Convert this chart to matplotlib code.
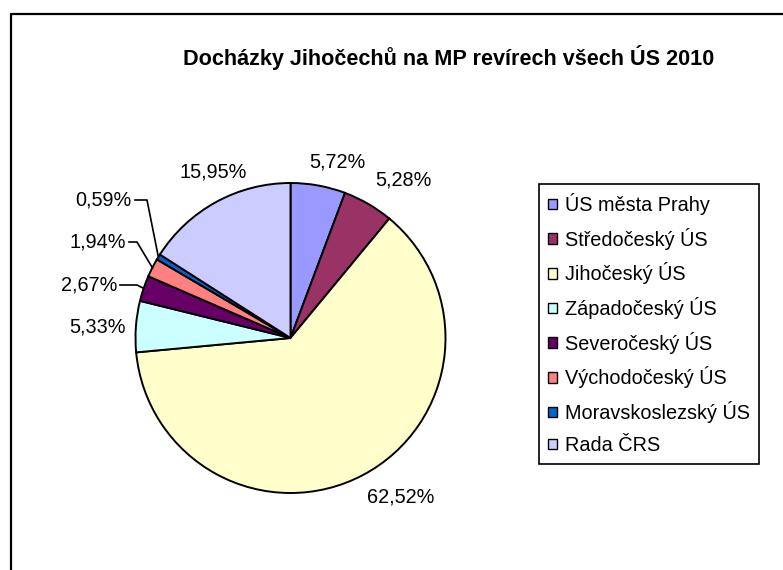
import matplotlib.pyplot as plt
from matplotlib.patches import Patch
import numpy as np

plt.rcParams['font.family'] = ['Liberation Sans', 'DejaVu Sans']

title = 'Docházky Jihočechů na MP revírech všech ÚS 2010'
regions = ['ÚS města Prahy', 'Středočeský ÚS', 'Jihočeský ÚS', 'Západočeský ÚS',
           'Severočeský ÚS', 'Východočeský ÚS', 'Moravskoslezský ÚS', 'Rada ČRS']
shares = [5.72, 5.28, 62.52, 5.33, 2.67, 1.94, 0.59, 15.95]
colors = ['#9999FF', '#993366', '#FFFFCC', '#CCFFFF',
          '#660066', '#FF8080', '#0066CC', '#CCCCFF']

W, H = 783, 570
fig = plt.figure(figsize=(W / 100, H / 100), dpi=100)
ax = fig.add_axes([0, 0, 1, 1])

# axes work in pixels with y running down, so counterclock from -90 = clockwise from 12 o'clock
cx, cy, R = 290.5, 338, 155
wedges, _ = ax.pie(shares, colors=colors, center=(cx, cy), radius=R,
                   startangle=-90, counterclock=True, frame=True,
                   wedgeprops=dict(edgecolor='black', linewidth=1.4))
ax.set_xlim(0, W)
ax.set_ylim(H, 0)
ax.set_aspect('equal')
ax.axis('off')

# label placement (x, y, alignment); small slices get a leader line with a knee
label_pos = [(337, 162, 'center'), (403, 180, 'center'), (401, 497, 'center'),
             (98, 327, 'center'), (117, 285, 'right'), (126, 242, 'right'),
             (132, 200, 'right'), (213, 172, 'center')]
knee_x = {4: 137, 5: 137, 6: 147}

for i, (w, v) in enumerate(zip(wedges, shares)):
    x, y, ha = label_pos[i]
    ax.text(x, y, f'{v:.2f}'.replace('.', ',') + '%', ha=ha, va='center', fontsize=14.3)
    if i in knee_x:
        mid = np.deg2rad((w.theta1 + w.theta2) / 2)
        ex, ey = cx + R * np.cos(mid), cy + R * np.sin(mid)
        ax.plot([x + 3, knee_x[i], ex], [y, y, ey], color='black', lw=1.2)

ax.text(449, 57, title, ha='center', va='center', fontsize=15.6, fontweight='bold')

handles = [Patch(facecolor=c, edgecolor='black', linewidth=1) for c in colors]
leg = ax.legend(handles, regions, loc='upper left', bbox_to_anchor=(539 / W, 1 - 184 / H),
                fontsize=14.3, fancybox=False, framealpha=1, edgecolor='black',
                handlelength=0.45, handleheight=0.45, handletextpad=0.4,
                labelspacing=0.64, borderpad=0.45, borderaxespad=0)
leg.get_frame().set_linewidth(1.2)

# outer chart border (cut off on the right and bottom)
ax.plot([11, 11, W + 5], [H + 5, 14, 14], color='black', lw=1.6, clip_on=False)

fig.savefig('out.png', dpi=100)
